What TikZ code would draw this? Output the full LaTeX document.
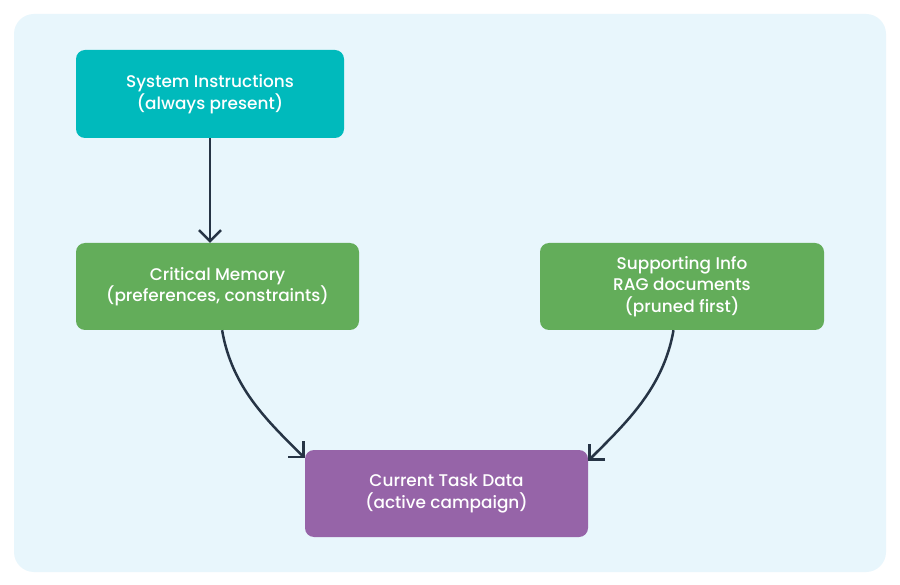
\documentclass[tikz,border=0pt]{standalone}
\usepackage{fontspec}
\setmainfont{Poppins Medium}
\usetikzlibrary{arrows.meta,calc}
\definecolor{panelbg}{HTML}{E8F6FC}
\definecolor{tealbox}{HTML}{00BABC}
\definecolor{greenbox}{HTML}{63AD5A}
\definecolor{purplebox}{HTML}{9664A8}
\definecolor{arrowcol}{HTML}{263445}
\tikzset{
  box/.style={rounded corners=9pt, text=white, align=center, inner sep=0pt,
    font=\fontsize{16.9pt}{21.5pt}\selectfont},
  conn/.style={draw=arrowcol, line width=2.5pt, -{Straight Barb[length=11pt,width=22pt,line width=2.5pt]}},
}
\begin{document}
\begin{tikzpicture}[x=1pt,y=-1pt]
\useasboundingbox (0,0) rectangle (900,585);
\fill[white] (0,0) rectangle (900,585);
\fill[panelbg, rounded corners=20pt] (14,14) rectangle (886,572);
\node[box, fill=tealbox, minimum width=268pt, minimum height=88pt] (sys) at (210,94) {System Instructions\\(always present)};
\node[box, fill=greenbox, minimum width=283pt, minimum height=87pt] (crit) at (217.5,286.5) {Critical Memory\\(preferences, constraints)};
\node[box, fill=greenbox, minimum width=284pt, minimum height=87pt] (sup) at (682,286.5) {Supporting Info\\RAG documents\\(pruned first)};
\node[box, fill=purplebox, minimum width=283pt, minimum height=87pt] (cur) at (446.5,493.5) {Current Task Data\\(active campaign)};
\draw[conn] (sys.south) -- (sys.south |- crit.north);
\draw[conn] (crit.-84) .. controls +(10,58) and +(-37,-37) .. (cur.166);
\draw[conn] (sup.-101.7) .. controls +(-10,58) and +(37,-37) .. (cur.13.3);
\end{tikzpicture}
\end{document}
